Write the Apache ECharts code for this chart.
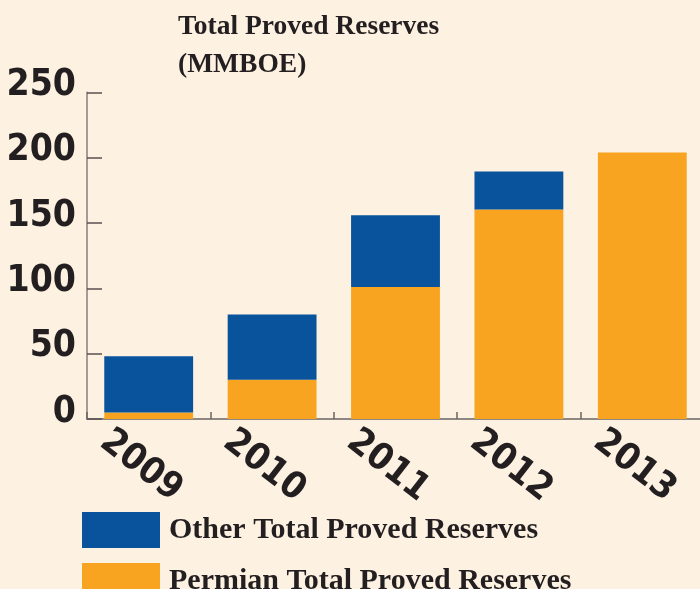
<!DOCTYPE html>
<html>
<head>
<meta charset="utf-8">
<script src="https://cdn.jsdelivr.net/npm/echarts@6/dist/echarts.min.js"></script>
<style>
html,body{margin:0;padding:0;background:#fdf1e2;}
#c{width:700px;height:589px;}
</style>
</head>
<body>
<div id="c"></div>
<script>
var categories = ['2009', '2010', '2011', '2012', '2013'];
var permianReserves = [5, 30, 101, 160.5, 204];
var otherReserves = [43, 50, 55, 29, 0];
var yTicks = [0, 50, 100, 150, 200, 250];
var titleText = 'Total Proved Reserves\n(MMBOE)';
var otherName = 'Other Total Proved Reserves';
var permianName = 'Permian Total Proved Reserves';

var chart = echarts.init(document.getElementById('c'), null, {renderer: 'canvas'});
var condensed = '"DejaVu Sans", sans-serif';
var serif = '"Liberation Serif", "DejaVu Serif", serif';
var legendCommon = {
  orient: 'vertical',
  left: 82,
  padding: 0,
  itemWidth: 78,
  itemHeight: 36,
  icon: 'rect',
  textStyle: {fontFamily: serif, fontWeight: 'bold', fontSize: 30, color: '#231f20', padding: [0, 0, 0, 4]}
};
chart.setOption({
  backgroundColor: '#fdf1e2',
  animation: false,
  title: {
    text: titleText,
    left: 178,
    top: 8,
    padding: 0,
    textStyle: {fontFamily: serif, fontWeight: 'bold', fontSize: 27.5, lineHeight: 38, color: '#231f20'}
  },
  legend: [
    Object.assign({}, legendCommon, {top: 512, data: [otherName]}),
    Object.assign({}, legendCommon, {top: 563, data: [permianName]})
  ],
  grid: {
    left: 87, top: 92.5, width: 617, height: 326.5,
    containLabel: false, outerBoundsMode: 'none'
  },
  xAxis: {
    type: 'category',
    data: categories,
    axisLine: {lineStyle: {color: '#6b6462', width: 1.5}},
    axisTick: {show: true, inside: true, length: 7, lineStyle: {color: '#6b6462', width: 1.5}},
    axisLabel: {
      rotate: -38,
      align: 'center',
      verticalAlign: 'middle',
      margin: 53,
      padding: [0, 20, 0, 0],
      fontFamily: condensed,
      fontWeight: 'bold condensed',
      fontSize: 37,
      color: '#231f20'
    }
  },
  yAxis: {
    type: 'value',
    min: yTicks[0],
    max: yTicks[yTicks.length - 1],
    interval: 50,
    splitLine: {show: false},
    axisLine: {show: true, lineStyle: {color: '#a39b95', width: 2}},
    axisTick: {show: true, inside: true, length: 15, lineStyle: {color: '#5a5250', width: 1.5}},
    axisLabel: {
      margin: 11,
      verticalAlign: 'bottom',
      lineHeight: 14,
      fontFamily: condensed,
      fontWeight: 'bold condensed',
      fontSize: 37,
      color: '#231f20'
    }
  },
  series: [
    {
      name: permianName,
      type: 'bar',
      stack: 'total',
      data: permianReserves,
      barCategoryGap: '28%',
      itemStyle: {color: '#f8a420'}
    },
    {
      name: otherName,
      type: 'bar',
      stack: 'total',
      data: otherReserves,
      barCategoryGap: '28%',
      itemStyle: {color: '#08539c'}
    }
  ]
});
</script>
</body>
</html>
